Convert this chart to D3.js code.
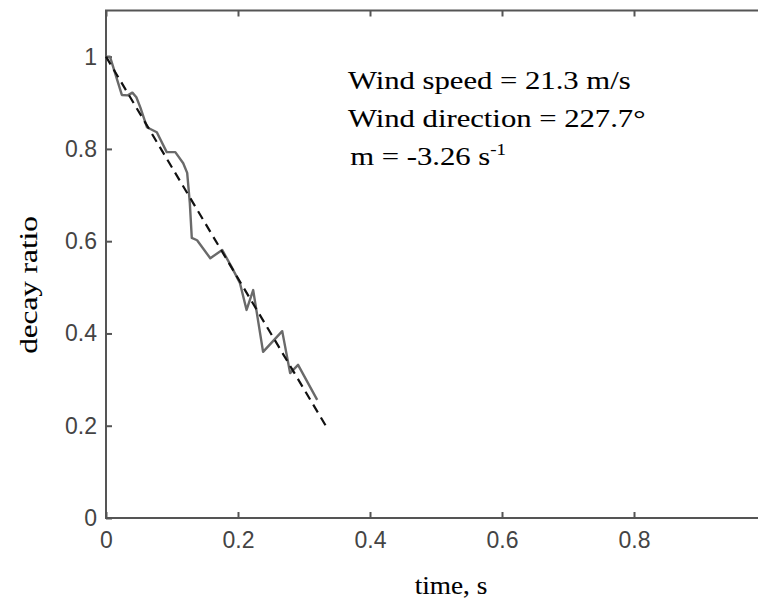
<!DOCTYPE html>
<html>
<head>
<meta charset="utf-8">
<script src="https://cdn.jsdelivr.net/npm/d3@7"></script>
<style>
    body { margin: 0; background: #ffffff; }
    svg { display: block; }
    .tick text { font-family: "Liberation Sans", Arial, sans-serif; font-size: 23px; fill: #444444; }
    .tick line { stroke: #555555; stroke-width: 2; }
    .serif { font-family: "Liberation Serif", "Times New Roman", serif; fill: #000000; stroke: #000000; stroke-width: 0.1; }
</style>
</head>
<body>
<div id="chart"></div>
<script>
const timeValues  = [0, 0.006, 0.024, 0.033, 0.040, 0.046, 0.052, 0.062, 0.077, 0.092, 0.105, 0.117, 0.123, 0.127, 0.130, 0.138, 0.158, 0.176, 0.190, 0.203, 0.213, 0.223, 0.238, 0.267, 0.279, 0.291, 0.320];
const decayValues = [1.0, 1.0, 0.917, 0.916, 0.922, 0.912, 0.890, 0.847, 0.836, 0.793, 0.793, 0.769, 0.748, 0.683, 0.607, 0.602, 0.563, 0.581, 0.545, 0.509, 0.451, 0.494, 0.360, 0.405, 0.314, 0.332, 0.256];

// fitted line (black dashed)
const fitTime  = [0, 0.333];
const fitDecay = [1.0, 0.2];

const xTicks = [0, 0.2, 0.4, 0.6, 0.8];
const yTicks = [0, 0.2, 0.4, 0.6, 0.8, 1];

const annotationLines = ['Wind speed = 21.3 m/s', 'Wind direction = 227.7\u00B0'];
const slopeText = 'm = -3.26 s';
const slopeUnit = '-1';

const xLabel = 'time, s';
const yLabel = 'decay ratio';

// Layout
const width = 758;
const height = 601;
const margin = { top: 10.5, right: -8, bottom: 83, left: 106 };   // right edge of the box falls off the canvas
const boundedWidth = width - margin.left - margin.right;
const boundedHeight = height - margin.top - margin.bottom;

const svg = d3.select('#chart')
    .append('svg')
    .attr('width', width)
    .attr('height', height);

const bounds = svg.append('g')
    .attr('transform', `translate(${margin.left}, ${margin.top})`);

// Scales
const xScale = d3.scaleLinear()
    .domain([0, 1])
    .range([0, boundedWidth]);

const yScale = d3.scaleLinear()
    .domain([0, 1.1])
    .range([boundedHeight, 0]);

// Box around the plot
bounds.append('rect')
    .attr('x', 0)
    .attr('y', 0)
    .attr('width', boundedWidth)
    .attr('height', boundedHeight)
    .attr('fill', 'none')
    .attr('stroke', '#555555')
    .attr('stroke-width', 2);

// Axes, ticks pointing inside
const xAxis = d3.axisBottom(xScale)
    .tickValues(xTicks)
    .tickFormat(d3.format('~g'))
    .tickSizeInner(-6)
    .tickSizeOuter(0)
    .tickPadding(14);

const yAxis = d3.axisLeft(yScale)
    .tickValues(yTicks)
    .tickFormat(d3.format('~g'))
    .tickSizeInner(-6)
    .tickSizeOuter(0)
    .tickPadding(9);

const xAxisG = bounds.append('g')
    .attr('class', 'axis x-axis')
    .attr('transform', `translate(0, ${boundedHeight})`)
    .call(xAxis);

const yAxisG = bounds.append('g')
    .attr('class', 'axis y-axis')
    .call(yAxis);

// mirrored ticks on top and right
bounds.append('g')
    .call(d3.axisTop(xScale).tickValues(xTicks).tickSizeInner(-6).tickSizeOuter(0).tickFormat(''));
bounds.append('g')
    .attr('transform', `translate(${boundedWidth}, 0)`)
    .call(d3.axisRight(yScale).tickValues(yTicks).tickSizeInner(-8).tickSizeOuter(0).tickFormat(''));

bounds.selectAll('.domain').remove();
bounds.selectAll('.tick line').attr('stroke', '#555555').attr('stroke-width', 2);

// Data lines
const measured = timeValues.map((t, i) => ({ t, v: decayValues[i] }));
const fitted = fitTime.map((t, i) => ({ t, v: fitDecay[i] }));

const line = d3.line()
    .x(d => xScale(d.t))
    .y(d => yScale(d.v));

bounds.append('path')
    .datum(measured)
    .attr('fill', 'none')
    .attr('stroke', '#6a6a6a')
    .attr('stroke-width', 2.4)
    .attr('stroke-linejoin', 'round')
    .attr('d', line);

bounds.append('path')
    .datum(fitted)
    .attr('fill', 'none')
    .attr('stroke', '#111111')
    .attr('stroke-width', 2.2)
    .attr('stroke-dasharray', '9,6')
    .attr('d', line);

// Annotation text (slightly stretched like the original)
const note = svg.append('g')
    .attr('transform', 'translate(348, 0) scale(1.18, 1)');

note.selectAll('text.note-line')
    .data(annotationLines)
    .join('text')
    .attr('class', 'serif note-line')
    .attr('x', 0)
    .attr('y', (d, i) => 89 + i * 38)
    .attr('font-size', 26)
    .text(d => d);

const slope = note.append('text')
    .attr('class', 'serif')
    .attr('x', 2)
    .attr('y', 165)
    .attr('font-size', 26)
    .text(slopeText);

slope.append('tspan')
    .attr('dy', -10)
    .attr('font-size', 16)
    .text(slopeUnit);

// Axis titles
svg.append('text')
    .attr('class', 'serif')
    .attr('transform', 'translate(451, 594) scale(1.05, 1)')
    .attr('text-anchor', 'middle')
    .attr('font-size', 26)
    .text(xLabel);

svg.append('text')
    .attr('class', 'serif')
    .attr('transform', 'translate(37, 285) rotate(-90) scale(1.2, 1)')
    .attr('text-anchor', 'middle')
    .attr('font-size', 26)
    .text(yLabel);
</script>
</body>
</html>
